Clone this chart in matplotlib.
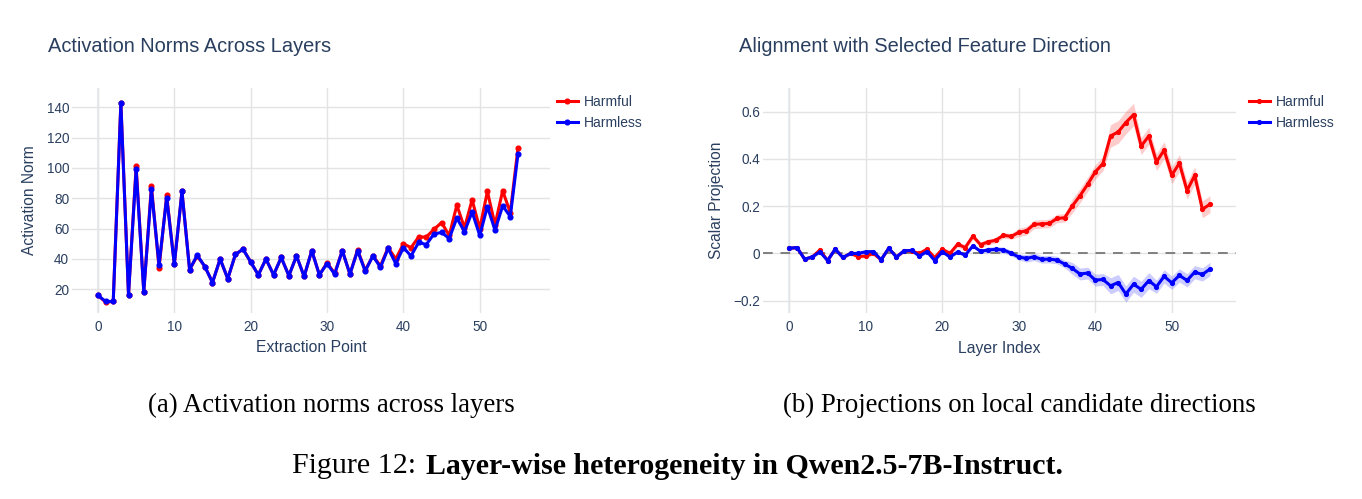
import matplotlib
matplotlib.use("Agg")
import matplotlib.pyplot as plt
import numpy as np

# ---------------- data ----------------
layers = list(range(56))

norm_harmful = [16, 11.6, 12, 143, 16.5, 101, 18.5, 88, 34, 82,
                36.5, 84.5, 33, 42, 35, 24.5, 40, 27, 43, 46.5,
                38, 29.5, 40, 29.5, 41, 29, 42, 28.5, 45.5, 29.5,
                37.5, 30.5, 45.5, 30, 46, 32.5, 42, 35.5, 47.5, 40,
                50, 47.5, 54.5, 54.5, 59.5, 64, 55.5, 75.5, 60.5, 79,
                60, 84.5, 62.5, 85, 70.5, 113]
norm_harmless = [16, 12, 12, 142.5, 16.5, 99, 18.5, 86, 36, 80.5,
                 36.5, 84.5, 33, 42.5, 35, 24.5, 40, 27, 43, 46.5,
                 38, 29.5, 40, 29.5, 41, 29, 42, 28.5, 45.5, 29.5,
                 37, 30, 45.5, 30, 45.5, 32, 42, 34.5, 47, 37,
                 47.5, 42, 51, 49.5, 56.5, 57.5, 53.5, 67, 58, 71,
                 55.5, 74.5, 59, 75, 68, 109]

proj_harmful = [0.022, 0.025, -0.024, -0.015, 0.015, -0.03, 0.018, -0.017, 0.0, -0.013,
                -0.011, 0.0, -0.027, 0.022, -0.015, 0.011, 0.010, 0.0, 0.018, -0.018,
                0.018, 0.0, 0.039, 0.025, 0.073, 0.037, 0.049, 0.056, 0.077, 0.072,
                0.089, 0.096, 0.123, 0.125, 0.127, 0.148, 0.151, 0.201, 0.244, 0.292,
                0.345, 0.380, 0.497, 0.514, 0.554, 0.587, 0.454, 0.497, 0.387, 0.437,
                0.331, 0.382, 0.266, 0.330, 0.187, 0.208]
proj_harmless = [0.022, 0.025, -0.024, -0.015, 0.007, -0.03, 0.018, -0.017, 0.0, 0.0,
                 0.007, 0.008, -0.027, 0.022, -0.015, 0.011, 0.013, -0.011, 0.008, -0.03,
                 0.007, -0.015, 0.006, -0.007, 0.032, 0.009, 0.015, 0.017, 0.015, 0.001,
                 -0.015, -0.021, -0.014, -0.025, -0.024, -0.028, -0.045, -0.063, -0.087, -0.083,
                 -0.113, -0.110, -0.137, -0.123, -0.172, -0.130, -0.152, -0.115, -0.141, -0.097,
                 -0.124, -0.093, -0.114, -0.079, -0.089, -0.066]
# band half-widths (read from shaded areas)
proj_harmful_err = [0.007] * 21 + [0.012] * 9 + [0.018] * 7 + [0.03] * 5 + [0.048] * 4 + [0.036] * 10
proj_harmless_err = [0.007] * 26 + [0.012] * 5 + [0.016] * 6 + [0.025] * 5 + [0.034] * 6 + [0.028] * 8

xticks = [0, 10, 20, 30, 40, 50]
norm_yticks = [20, 40, 60, 80, 100, 120, 140]
proj_yticks = [-0.2, 0, 0.2, 0.4, 0.6]
proj_yticklabels = ["\u22120.2", "0", "0.2", "0.4", "0.6"]

# ---------------- style ----------------
W, H = 1362, 499
DPI = 100
TXT = "#2a3f5f"
GRID = "#e3e3e3"
ZERO = "#e9eef6"
RED = "#ff0000"
BLUE = "#0000ff"
SANS = ["Liberation Sans", "DejaVu Sans"]
SERIF = ["Liberation Serif", "DejaVu Serif"]
plt.rcParams["font.family"] = SANS

fig = plt.figure(figsize=(W / DPI, H / DPI), dpi=DPI)


def px_axes(x0, x1, y0, y1):
    return fig.add_axes([x0 / W, 1 - y1 / H, (x1 - x0) / W, (y1 - y0) / H])


def style(ax):
    for s in ax.spines.values():
        s.set_visible(False)
    ax.tick_params(length=0, labelsize=9.8, colors=TXT)
    ax.tick_params(axis="x", pad=5)
    ax.tick_params(axis="y", pad=2)
    ax.grid(True, color=GRID, linewidth=1.0)
    ax.set_axisbelow(True)


LW = 2.2
MS = 3.4

# ---------- left ----------
ax1 = px_axes(72, 550, 88, 313)
style(ax1)
ax1.axvline(0, color=ZERO, linewidth=1.6, zorder=0.5)
ax1.plot(layers, norm_harmful, color=RED, lw=LW, marker="o", ms=MS, label="Harmful", zorder=3)
ax1.plot(layers, norm_harmless, color=BLUE, lw=LW, marker="o", ms=MS, label="Harmless", zorder=4)
ax1.set_xlim(-3.4, 59.2)
ax1.set_ylim(4.4, 152.7)
ax1.set_xticks(xticks)
ax1.set_yticks(norm_yticks)
ax1.set_xlabel("Extraction Point", fontsize=11.3, color=TXT)
ax1.xaxis.set_label_coords(0.5, (313 - 348) / 225)
ax1.xaxis.label.set_va("center")
ax1.set_ylabel("Activation Norm", fontsize=11.2, color=TXT)
ax1.yaxis.set_label_coords((29 - 72) / 478, 0.5)
ax1.yaxis.label.set_va("center")
leg1 = ax1.legend(loc="upper left", bbox_to_anchor=((557 - 72) / 478, (313 - 95) / 225),
                  frameon=False, fontsize=10, handlelength=1.5, handletextpad=0.4,
                  labelspacing=0.48, borderpad=0, borderaxespad=0)
for t in leg1.get_texts():
    t.set_color(TXT)
fig.text(48 / W, 1 - 46 / H, "Activation Norms Across Layers", fontsize=14.4,
         color=TXT, ha="left", va="center")

# ---------- right ----------
ax2 = px_axes(763, 1236, 88, 313)
style(ax2)
ax2.axvline(0, color=ZERO, linewidth=1.6, zorder=0.5)
ax2.axhline(0, color="#808080", lw=1.4, ls=(0, (5, 4)), zorder=2)
ph = np.array(proj_harmful)
pl = np.array(proj_harmless)
ax2.fill_between(layers, ph - np.array(proj_harmful_err), ph + np.array(proj_harmful_err),
                 color=RED, alpha=0.2, linewidth=0, zorder=1)
ax2.fill_between(layers, pl - np.array(proj_harmless_err), pl + np.array(proj_harmless_err),
                 color=BLUE, alpha=0.2, linewidth=0, zorder=1)
ax2.plot(layers, proj_harmful, color=RED, lw=LW, marker="o", ms=MS * 0.8, label="Harmful", zorder=3)
ax2.plot(layers, proj_harmless, color=BLUE, lw=LW, marker="o", ms=MS * 0.8, label="Harmless", zorder=4)
ax2.set_xlim(-3.44, 58.4)
ax2.set_ylim(-0.252, 0.7)
ax2.set_xticks(xticks)
ax2.set_yticks(proj_yticks)
ax2.set_yticklabels(proj_yticklabels)
ax2.set_xlabel("Layer Index", fontsize=11.3, color=TXT)
ax2.xaxis.set_label_coords(0.5, (313 - 348) / 225)
ax2.xaxis.label.set_va("center")
ax2.set_ylabel("Scalar Projection", fontsize=11.2, color=TXT)
ax2.yaxis.set_label_coords((717 - 763) / 473, 0.5)
ax2.yaxis.label.set_va("center")
leg2 = ax2.legend(loc="upper left", bbox_to_anchor=((1249 - 763) / 473, (313 - 95) / 225),
                  frameon=False, fontsize=10, handlelength=1.5, handletextpad=0.4,
                  labelspacing=0.48, borderpad=0, borderaxespad=0)
for t in leg2.get_texts():
    t.set_color(TXT)
fig.text(739 / W, 1 - 46 / H, "Alignment with Selected Feature Direction", fontsize=14.4,
         color=TXT, ha="left", va="center")

# ---------- captions ----------
fig.text(331 / W, 1 - 405 / H, "(a) Activation norms across layers", fontsize=19.4,
         family=SERIF, ha="center", va="center", color="black")
fig.text(1019 / W, 1 - 405 / H, "(b) Projections on local candidate directions", fontsize=19.4,
         family=SERIF, ha="center", va="center", color="black")
fig.text(416 / W, 1 - 466 / H, "Figure 12:", fontsize=21.6, family=SERIF,
         ha="right", va="center", color="black")
fig.text(426 / W, 1 - 466 / H, "Layer-wise heterogeneity in Qwen2.5-7B-Instruct.", fontsize=21.5,
         family=SERIF, weight="bold", ha="left", va="center", color="black")

fig.savefig("out.png", dpi=DPI)
